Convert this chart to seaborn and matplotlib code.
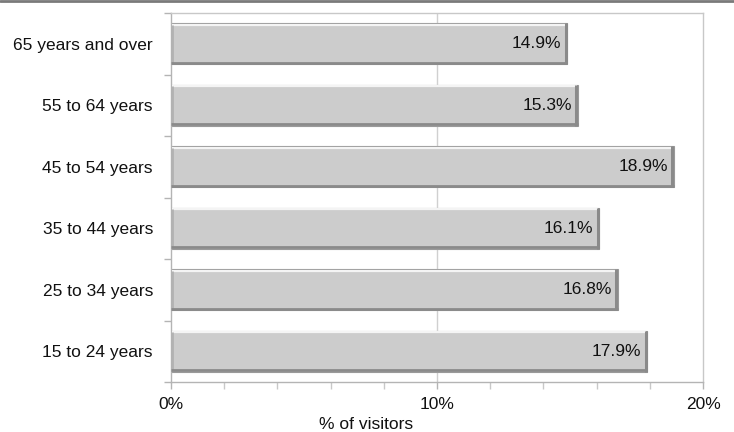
import matplotlib
matplotlib.use("Agg")
import matplotlib.pyplot as plt
from matplotlib.lines import Line2D
from matplotlib.ticker import MultipleLocator, FixedLocator, PercentFormatter
import seaborn as sns
import pandas as pd

age_groups = ["65 years and over", "55 to 64 years", "45 to 54 years",
              "35 to 44 years", "25 to 34 years", "15 to 24 years"]
share_pct = [14.9, 15.3, 18.9, 16.1, 16.8, 17.9]
x_ticks = [0, 10, 20]

df = pd.DataFrame({"age": age_groups, "share": share_pct})

sns.set_theme(style="white")
plt.rcParams["font.family"] = ["Liberation Sans", "DejaVu Sans"]

fig = plt.figure(figsize=(7.34, 4.32), dpi=100)
ax = fig.add_axes([171 / 734, 1 - 382 / 432, 532 / 734, 369 / 432])

sns.barplot(data=df, x="share", y="age", order=age_groups, orient="h",
            color="#cccccc", saturation=1, width=0.67, edgecolor="#9a9a9a",
            linewidth=0.8, ax=ax)

# bevelled look on each bar
for p, v in zip(ax.patches, share_pct):
    x0, y0 = p.get_x(), p.get_y()
    w, h = p.get_width(), p.get_height()
    x1, y1 = x0 + w, y0 + h
    # y axis is inverted: y0 is the top edge visually
    ax.add_line(Line2D([x0 + 0.05, x1 - 0.05], [y0 + 0.03, y0 + 0.03],
                       color="#f4f4f4", lw=1.6, solid_capstyle="butt", zorder=3))
    ax.add_line(Line2D([x0 + 0.05, x0 + 0.05], [y0 + 0.03, y1 - 0.03],
                       color="#b2b2b2", lw=2.0, solid_capstyle="butt", zorder=3))
    ax.add_line(Line2D([x0, x1], [y1 - 0.03, y1 - 0.03],
                       color="#8a8a8a", lw=2.0, solid_capstyle="butt", zorder=3))
    ax.add_line(Line2D([x1 - 0.06, x1 - 0.06], [y0, y1],
                       color="#8a8a8a", lw=2.2, solid_capstyle="butt", zorder=3))
    ax.text(x1 - 0.22, y0 + h / 2, f"{v:.1f}%", ha="right", va="center",
            fontsize=12.5, color="#111111", zorder=4)

ax.set_xlim(0, 20)
ax.set_ylim(len(age_groups) - 0.5, -0.5)

ax.xaxis.set_major_locator(FixedLocator(x_ticks))
ax.xaxis.set_minor_locator(MultipleLocator(2))
ax.xaxis.set_major_formatter(PercentFormatter(decimals=0))
ax.yaxis.set_minor_locator(FixedLocator([i - 0.5 for i in range(len(age_groups) + 1)]))

ax.grid(False)
ax.axvline(10, color="#d0d0d0", lw=1.0, zorder=0)

for side in ["left", "bottom", "top", "right"]:
    ax.spines[side].set_visible(True)
    ax.spines[side].set_color("#c8c8c8")
    ax.spines[side].set_linewidth(1.0)
ax.spines["left"].set_color("#b4b4b4")
ax.spines["bottom"].set_color("#b4b4b4")

ax.tick_params(axis="x", which="major", bottom=True, length=5, width=1,
               color="#b4b4b4", labelsize=12.5, pad=6, labelcolor="#111111")
ax.tick_params(axis="x", which="minor", bottom=True, length=5, width=1,
               color="#c8c8c8")
ax.tick_params(axis="y", which="major", left=False, labelsize=12.5, pad=7,
               labelcolor="#111111")
ax.tick_params(axis="y", which="minor", left=True, length=5, width=1,
               color="#b4b4b4")

ax.set_ylabel("")
ax.set_xlabel("% of visitors", fontsize=12.5, color="#111111")
ax.xaxis.set_label_coords(0.366, -0.095)

# rule across the top of the figure
fig.add_artist(Line2D([0, 1], [0.998, 0.998], transform=fig.transFigure,
                      color="#7a7a7a", lw=2.0))

fig.savefig("out.png", dpi=100)
